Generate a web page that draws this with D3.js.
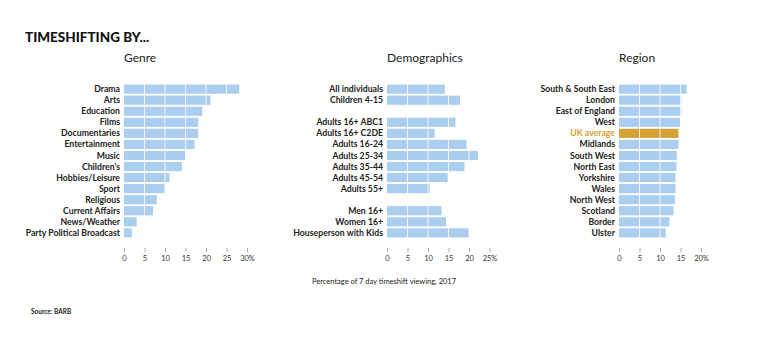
<!DOCTYPE html>
<html>
<head>
<meta charset="utf-8">
<script src="https://cdn.jsdelivr.net/npm/d3@7"></script>
<style>
  body { margin: 0; background: #fff; }
  svg { display: block; font-family: Lato, "Open Sans", sans-serif; }
</style>
</head>
<body>
<div id="graph"></div>
<script>
var genreLabels = ["Drama", "Arts", "Education", "Films", "Documentaries", "Entertainment", "Music",
  "Children's", "Hobbies/Leisure", "Sport", "Religious", "Current Affairs", "News/Weather", "Party Political Broadcast"];
var genreValues = [28.1, 21.1, 19.1, 18.1, 18.1, 17.2, 15.0, 14.1, 11.1, 10.0, 8.0, 7.1, 3.1, 1.9];

// empty strings / nulls are the spacer rows between groups
var demoLabels = ["All individuals", "Children 4-15", "", "Adults 16+ ABC1", "Adults 16+ C2DE", "Adults 16-24",
  "Adults 25-34", "Adults 35-44", "Adults 45-54", "Adults 55+", "", "Men 16+", "Women 16+", "Houseperson with Kids"];
var demoValues = [14.1, 17.8, null, 16.7, 11.6, 19.4, 22.2, 18.9, 14.8, 10.4, null, 13.3, 14.4, 20.0];

var regionLabels = ["South & South East", "London", "East of England", "West", "UK average", "Midlands",
  "South West", "North East", "Yorkshire", "Wales", "North West", "Scotland", "Border", "Ulster"];
var regionValues = [16.5, 15.2, 15.2, 14.9, 14.5, 14.5, 14.1, 14.0, 13.8, 13.8, 13.6, 13.3, 12.3, 11.4];

var genreTicks = [0, 5, 10, 15, 20, 25, 30];
var demoTicks = [0, 5, 10, 15, 20, 25];
var regionTicks = [0, 5, 10, 15, 20];

var width = 767, height = 342;
var pxPerUnit = 4.1;
var barColor = "#abcdee";
var highlightColor = "#d4a136";
var textColor = "#222";

var svg = d3.select('#graph')
  .append('svg')
  .attr('width', width)
  .attr('height', height);

svg.append('text')
  .attr('x', 25)
  .attr('y', 42)
  .attr('font-size', 13.5)
  .attr('font-weight', 900)
  .attr('fill', '#111')
  .text('TIMESHIFTING BY...');

var y = d3.scaleBand()
  .domain(d3.range(14))
  .range([84, 238])
  .paddingInner(0.17)
  .paddingOuter(0.05);

function panel(title, x0, labels, values, ticks, highlight) {
  var x = d3.scaleLinear()
    .domain([0, ticks[ticks.length - 1]])
    .range([x0, x0 + pxPerUnit * ticks[ticks.length - 1]]);
  var g = svg.append('g');

  g.append('text')
    .attr('x', x0)
    .attr('y', 62)
    .attr('font-size', 12)
    .attr('fill', '#222')
    .text(title);

  var rows = values.map(function(v, i) { return {i: i, v: v, label: labels[i]}; })
    .filter(function(d) { return d.v != null; });

  /* bars */
  g.selectAll('rect.bar')
    .data(rows)
    .enter()
    .append('rect')
    .attr('class', 'bar')
    .attr('x', x(0))
    .attr('y', function(d) { return y(d.i); })
    .attr('height', y.bandwidth())
    .attr('width', function(d) { return x(d.v) - x(0); })
    .attr('fill', function(d) { return d.label === highlight ? highlightColor : barColor; });

  /* category labels */
  g.selectAll('text.label')
    .data(rows)
    .enter()
    .append('text')
    .attr('class', 'label')
    .attr('x', x(0) - 4)
    .attr('y', function(d) { return y(d.i) + y.bandwidth() / 2; })
    .attr('dy', '0.35em')
    .attr('text-anchor', 'end')
    .attr('font-size', 8.7)
    .attr('font-weight', 700)
    .attr('fill', function(d) { return d.label === highlight ? highlightColor : textColor; })
    .text(function(d) { return d.label; });

  /* white gridlines over bars */
  g.selectAll('line.grid')
    .data(ticks.slice(1))
    .enter()
    .append('line')
    .attr('x1', function(d) { return x(d); })
    .attr('x2', function(d) { return x(d); })
    .attr('y1', y.range()[0])
    .attr('y2', y.range()[1])
    .attr('stroke', '#fff')
    .attr('stroke-opacity', 0.8)
    .attr('stroke-width', 1);

  /* axis */
  var axis = g.append('g')
    .attr('transform', 'translate(0,248)')
    .call(d3.axisBottom(x)
      .tickValues(ticks)
      .tickSize(4)
      .tickPadding(4)
      .tickFormat(function(d, i) { return i === ticks.length - 1 ? d + '%' : d; }));
  axis.select('.domain').remove();
  axis.selectAll('.tick line').attr('stroke', '#aaa');
  axis.selectAll('.tick text')
    .attr('font-size', 7.5)
    .attr('font-family', 'Lato, sans-serif')
    .attr('fill', '#333');
}

panel('Genre', 124, genreLabels, genreValues, genreTicks, null);
panel('Demographics', 387, demoLabels, demoValues, demoTicks, null);
panel('Region', 619, regionLabels, regionValues, regionTicks, 'UK average');

svg.append('text')
  .attr('x', 384)
  .attr('y', 284)
  .attr('text-anchor', 'middle')
  .attr('font-size', 7.5)
  .attr('fill', '#222')
  .text('Percentage of 7 day timeshift viewing, 2017');

svg.append('text')
  .attr('x', 31)
  .attr('y', 314)
  .attr('font-size', 6.5)
  .attr('font-weight', 700)
  .attr('fill', '#222')
  .text('Source: BARB');
</script>
</body>
</html>
